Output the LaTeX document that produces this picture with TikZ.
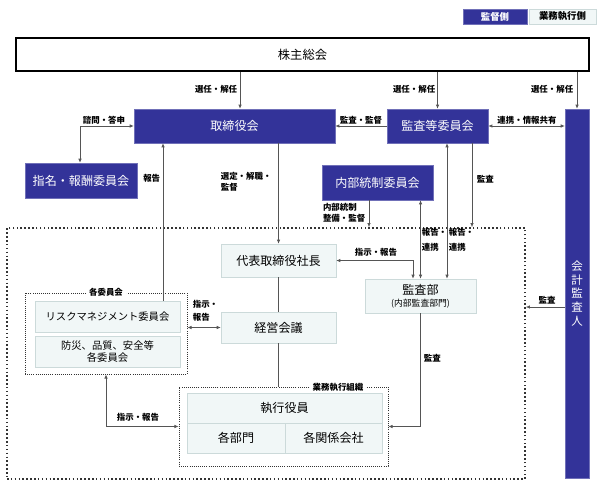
\documentclass[tikz,border=0pt]{standalone}
\usepackage{fontspec}
\setmainfont{Noto Sans CJK JP}
\usetikzlibrary{arrows.meta,positioning}
\definecolor{kantoku}{HTML}{333399}
\definecolor{gyomu}{HTML}{F1F7F7}
\definecolor{gyomusen}{HTML}{CCDADA}
\definecolor{sen}{HTML}{555555}
\tikzset{
  sz/.style 2 args={minimum width=#1*0.03cm, minimum height=#2*0.03cm},
  kbox/.style={draw=kantoku!70!white, fill=kantoku, text=white, inner sep=0pt,
    font=\fontsize{10.3}{12}\selectfont},
  gbox/.style={draw=gyomusen, fill=gyomu, inner sep=0pt, align=center,
    font=\fontsize{10.3}{12}\selectfont},
  waku/.style={draw=black!80, densely dotted, line width=0.8pt, inner sep=0pt},
  lbl/.style={font=\fontsize{7.2}{9.5}\selectfont\bfseries, inner sep=0.5pt},
  con/.style={draw=sen, line width=0.6pt},
  arr/.style={con, -{Latex[length=3.5pt,width=3pt]}},
  darr/.style={con, {Latex[length=3.5pt,width=3pt]}-{Latex[length=3.5pt,width=3pt]}},
}
\begin{document}
\begin{tikzpicture}[x=0.03cm,y=-0.03cm]
\useasboundingbox (0,0) rectangle (600,485);
% hanrei
\node[kbox,sz={64}{15},font=\fontsize{8}{9}\selectfont\bfseries] (hanrei1) at (495,16.5) {監督側};
\node[gbox,sz={67}{15},font=\fontsize{8}{9}\selectfont\bfseries] (hanrei2) at (562.5,16.5) {業務執行側};
% kantoku
\node[draw, line width=1.6pt, fill=white, sz={573}{33}, font=\fontsize{10.5}{12}\selectfont] (kabunushi) at (302.5,54.5) {株主総会};
\node[kbox,sz={201}{34}] (torishimari) at (234.5,126) {取締役会};
\node[kbox,sz={101}{34}] (kansaiin) at (437.5,126) {監査等委員会};
\node[kbox,sz={24}{369},align=center,font=\fontsize{9.8}{11.6}\selectfont] (kaikei) at (577,293.5) {会\\計\\監\\査\\人};
\node[kbox,sz={112}{35}] (shimei) at (81,180.5) {指名・報酬委員会};
\node[kbox,sz={111}{35}] (naibu) at (377.5,182.5) {内部統制委員会};
% gyomu shikkou
\node[waku,line width=1.3pt,dotted,sz={518}{251}] (shikkou) at (266,353.5) {};
\node[gbox,sz={115}{33}] (shacho) at (278.5,260.5) {代表取締役社長};
\node[gbox,sz={111}{34}] (kansabu) at (420.5,296) {監査部\\[-2pt]{\fontsize{7.5}{9}\selectfont (内部監査部門)}};
\node[waku,sz={162}{81}] (kakuiinkai) at (106,333.5) {};
\node[lbl,fill=white,inner xsep=3pt] (kakuiinkaimei) at (kakuiinkai.north) {各委員会};
\node[gbox,sz={145}{31},font=\fontsize{8.8}{10.5}\selectfont] (risk) at (107.5,316.5) {リスクマネジメント委員会};
\node[gbox,sz={145}{31},font=\fontsize{8.8}{10.5}\selectfont] (bousai) at (107.5,351.5) {防災、品質、安全等\\各委員会};
\node[gbox,sz={115}{31}] (keiei) at (278.5,327.5) {経営会議};
\node[waku,sz={209}{79}] (soshiki) at (283.5,426.5) {};
\node[lbl,fill=white,inner xsep=2pt] (soshikimei) at (338,387) {業務執行組織};
\node[gbox,sz={195}{30}] (yakuin) at (284.5,408) {執行役員};
\node[gbox,sz={98}{30}] (bumon) at (236,438) {各部門};
\node[gbox,sz={97}{30}] (kankei) at (333.5,438) {各関係会社};
% x positions
\coordinate (xA) at (240,0);
\coordinate (xB) at (80,0);
\coordinate (xC) at (163,0);
\coordinate (xE) at (472,0);
\coordinate (xF) at (369,0);
\coordinate (xG) at (447,0);
\coordinate (xH) at (413,0);
\coordinate (yK) at (0,307);
% connectors
\draw[arr] (kabunushi.south -| xA) -- (torishimari.north -| xA);
\draw[arr] (kabunushi.south -| kansaiin.north) -- (kansaiin.north);
\draw[arr] (kabunushi.south -| kaikei.north) -- (kaikei.north);
\draw[darr] (shimei.north -| xB) |- (torishimari.west);
\draw[arr] (kansaiin.west) -- (torishimari.east);
\draw[darr] (kansaiin.east) -- (kaikei.west |- kansaiin.east);
\draw[arr] (risk.north -| xC) -- (torishimari.south -| xC);
\draw[arr] (torishimari.south -| shacho.north) -- (shacho.north);
\draw[arr] (kansaiin.south -| xE) -- (shikkou.north -| xE);
\draw[arr] (naibu.south -| xF) -- (shikkou.north -| xF);
\draw[darr] (kansabu.north) -- (naibu.south -| kansabu.north);
\draw[darr] (kansabu.north -| xG) -- (kansaiin.south -| xG);
\draw[darr] (shacho.east) -| (kansabu.north -| xH);
\draw[con] (shacho.south) -- (keiei.north);
\draw[con] (keiei.south) -- (soshiki.north -| keiei.south);
\draw[darr] (kakuiinkai.east |- keiei.west) -- (keiei.west);
\draw[darr] (kakuiinkai.south) |- (soshiki.west);
\draw[arr] (kansabu.south) |- (soshiki.east);
\draw[arr] (kaikei.west |- yK) -- (shikkou.east |- yK);
% labels
\node[lbl,anchor=east] (sennin1) at (238,89) {選任・解任};
\node[lbl,anchor=east] (sennin2) at (436,89) {選任・解任};
\node[lbl,anchor=east] (sennin3) at (574,89) {選任・解任};
\node[lbl] (shimon) at (104,120) {諮問・答申};
\node[lbl] (kansakantoku) at (361,120) {監査・監督};
\node[lbl] (renkei) at (527,120) {連携・情報共有};
\node[lbl,anchor=east] (houkoku1) at (161,178) {報告};
\node[lbl,anchor=north west,align=left] (sentei) at (220,171) {選定・解職・\\監督};
\node[lbl,anchor=west] (kansa1) at (476,179) {監査};
\node[lbl,anchor=east,align=left] (naibutousei) at (366,213) {内部統制\\整備・監督};
\node[lbl,anchor=north west,align=left] (renkei1) at (421,227) {報告・\\[4pt]連携};
\node[lbl,anchor=north west,align=left] (renkei2) at (448,227) {報告・\\[4pt]連携};
\node[lbl] (shiji1) at (376,252) {指示・報告};
\node[lbl,anchor=west,align=left] (shiji2) at (192,311) {指示・\\[2pt]報告};
\node[lbl] (shiji3) at (138,417) {指示・報告};
\node[lbl,anchor=west] (kansa2) at (423,358) {監査};
\node[lbl] (kansa3) at (547,300) {監査};
\end{tikzpicture}
\end{document}
